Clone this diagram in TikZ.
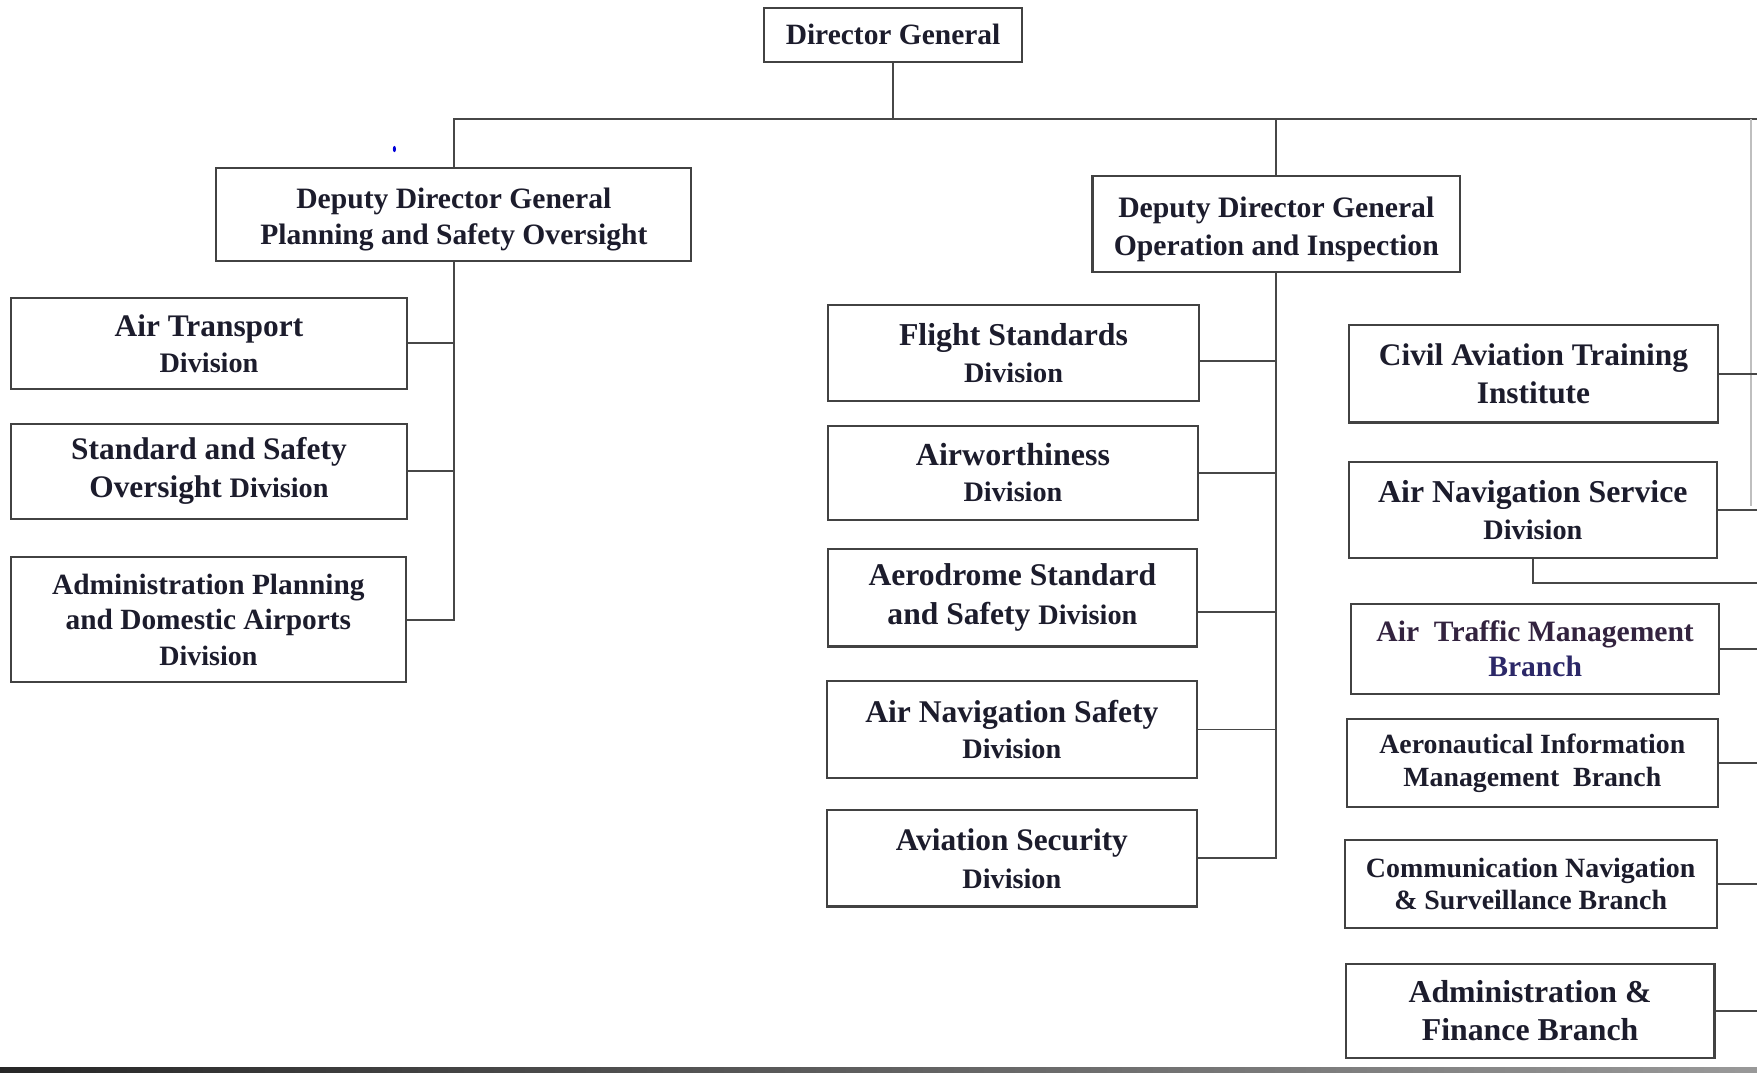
\documentclass[tikz,border=0pt]{standalone}
\usepackage{fontspec}
\setmainfont{Liberation Serif}
\usetikzlibrary{calc}
\definecolor{txtc}{HTML}{1C1C2C}
\definecolor{boxc}{HTML}{424242}
\definecolor{linec}{HTML}{474747}
\definecolor{atmA}{HTML}{33233F}
\definecolor{atmB}{HTML}{2C2868}
\newcommand\smdiv{\fontsize{12.6}{15}\selectfont}
\begin{document}
\begin{tikzpicture}[x=0.5pt,y=-0.5pt,
  orgbox/.style={draw=boxc,line width=0.95pt,inner sep=0pt,align=center,text=txtc,anchor=center},
  area/.style n args={4}{at={({(#1+#3)/2},{(#2+#4)/2})},minimum width={(#3-#1)*0.5pt},minimum height={(#4-#2)*0.5pt}},
  tsize/.style n args={2}{font=\bfseries\fontsize{#1}{#2}\selectfont},
  link/.style={draw=linec,line width=0.85pt}]
\fill[white] (0,0) rectangle (1568,958);
\useasboundingbox (0,0) rectangle (1568,958);

% top levels
\node[orgbox,tsize={13.15}{16},area={682}{7}{912}{55}] (dg) {Director General};
\node[orgbox,tsize={13.2}{16},area={193}{150}{617}{233}] (ddg1) {\rule{0pt}{13.5pt}Deputy Director General\\Planning and Safety Oversight};
\node[orgbox,tsize={13.25}{17},area={975}{157}{1303}{243}] (ddg2) {\rule{0pt}{13.5pt}Deputy Director General\\Operation and Inspection};

% left column
\node[orgbox,tsize={14}{16},area={10}{266}{363}{347}] (at) {Air Transport\\{\smdiv Division}};
\node[orgbox,tsize={14}{17},area={10}{378}{363}{463}] (sso) {Standard and Safety\\Oversight {\smdiv Division}};
\node[orgbox,tsize={13.1}{15.75},area={10}{497}{362}{609}] (apd) {Administration Planning\\and Domestic Airports\\{\fontsize{12.5}{15}\selectfont Division}};

% middle column
\node[orgbox,tsize={14.2}{16.5},area={739}{272}{1070}{358}] (fs) {Flight Standards\\{\smdiv Division}};
\node[orgbox,tsize={14.3}{16},area={739}{380}{1069}{464}] (aw) {Airworthiness\\{\smdiv Division}};
\node[orgbox,tsize={14.1}{17.5},area={739}{490}{1068}{577}] (ads) {Aerodrome Standard\\and Safety {\smdiv Division}};
\node[orgbox,tsize={14.1}{16},area={738}{608}{1068}{694}] (ansd) {Air Navigation Safety\\{\smdiv Division}};
\node[orgbox,tsize={14}{17},area={738}{723}{1068}{809}] (avs) {Aviation Security\\{\smdiv Division}};

% right column
\node[orgbox,tsize={14}{17},area={1204}{290}{1533}{377}] (cati) {Civil Aviation Training\\Institute};
\node[orgbox,tsize={14.2}{16.5},area={1204}{412}{1532}{498}] (ans) {Air Navigation Service\\{\smdiv Division}};
\node[orgbox,tsize={13.2}{16},area={1206}{539}{1534}{619}] (atm) {{\color{atmA}Air\ \ Traffic Management}\\{\color{atmB}Branch}};
\node[orgbox,tsize={12.4}{15},area={1202}{642}{1533}{720}] (aim) {Aeronautical Information\\Management\ \ Branch};
\node[orgbox,tsize={12.45}{14.5},area={1200}{750}{1532}{828}] (cns) {Communication Navigation\\\& Surveillance Branch};
\node[orgbox,tsize={14.2}{17},area={1201}{860}{1530}{944}] (af) {Administration \&\\Finance Branch};

% top connectors
\coordinate (topR) at (1568,106);
\draw[link] (ddg1.north) |- (topR);
\draw[link] (dg.south) -- (dg.south |- topR);
\draw[link] (ddg2.north) -- (ddg2.north |- topR);
\draw[link,draw=linec!35] (1563,106) -- (1563,452);

% left spine
\draw[link] (ddg1.south) |- (apd.east);
\draw[link] (at.east) -- (at.east -| ddg1.south);
\draw[link] (sso.east) -- (sso.east -| ddg1.south);

% middle spine
\draw[link] (ddg2.south) |- (avs.east);
\coordinate (fsE) at ($(fs.east)+(0,7)$);
\draw[link] (fsE) -- (fsE -| ddg2.south);
\draw[link] (aw.east) -- (aw.east -| ddg2.south);
\coordinate (adsE) at ($(ads.east)+(0,13)$);
\draw[link] (adsE) -- (adsE -| ddg2.south);
\draw[link] (ansd.east) -- (ansd.east -| ddg2.south);

% right branches
\coordinate (redge) at (1568,0);
\draw[link] (cati.east) -- (cati.east -| redge);
\draw[link] (ans.east) -- (ans.east -| redge);
\coordinate (ansB) at (1568,520);
\draw[link] (ans.south) |- (ansB);
\draw[link] (atm.east) -- (atm.east -| redge);
\draw[link] (aim.east) -- (aim.east -| redge);
\draw[link] (cns.east) -- (cns.east -| redge);
\draw[link] (af.east) -- (af.east -| redge);

% small blue mark
\fill[blue!85!black] (352,133) ellipse (0.7pt and 1.4pt);

% bottom rule
\shade[left color=black!85,right color=black!40] (0,952.5) rectangle (1568,957);
\end{tikzpicture}
\end{document}
